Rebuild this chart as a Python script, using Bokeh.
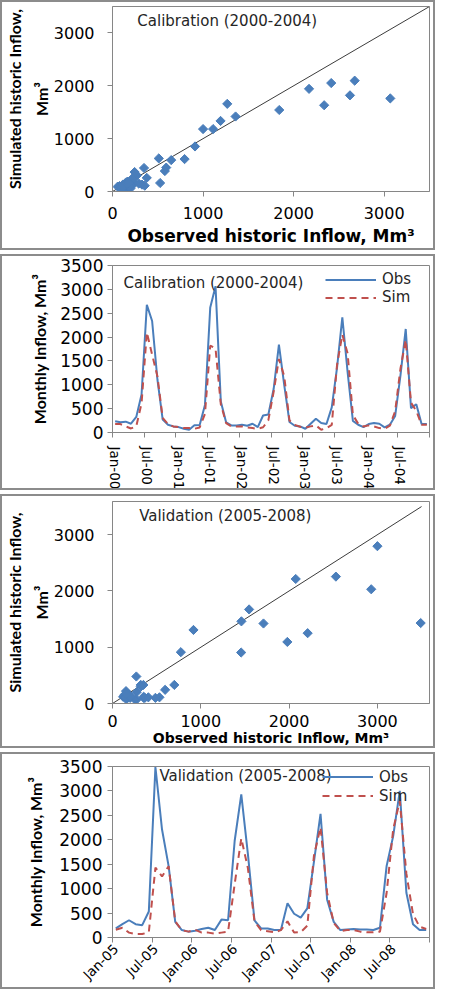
import math
from bokeh.plotting import figure
from bokeh.models import Label, Legend, LegendItem, FixedTicker, Range1d
from bokeh.layouts import column
from bokeh.embed import file_html
from bokeh.resources import INLINE

# ---------------- data ----------------
cal_tick_labels = ["Jan-00", "Jul-00", "Jan-01", "Jul-01", "Jan-02",
                   "Jul-02", "Jan-03", "Jul-03", "Jan-04", "Jul-04"]
val_tick_labels = ["Jan-05", "Jul-05", "Jan-06", "Jul-06",
                   "Jan-07", "Jul-07", "Jan-08", "Jul-08"]

# Monthly inflow (Mm3), Jan-2000 .. Dec-2004
cal_obs = [234, 213, 227, 184, 326, 796, 2674, 2337, 1111, 270, 163, 128,
           113, 78, 57, 150, 156, 578, 2622, 3067, 648, 213, 149, 149,
           163, 142, 184, 113, 356, 378, 911, 1841, 1000, 220, 142, 128,
           78, 184, 290, 198, 177, 526, 1359, 2415, 1267, 244, 163, 113,
           177, 198, 184, 106, 163, 348, 1193, 2170, 511, 593, 177, 177]
cal_sim = [177, 177, 128, 85, 130, 613, 2097, 1632, 1181, 305, 177, 128,
           113, 92, 92, 78, 106, 387, 1819, 1761, 594, 198, 128, 128,
           128, 106, 92, 78, 110, 258, 852, 1542, 1181, 250, 160, 120,
           100, 128, 150, 57, 92, 161, 1419, 2052, 1658, 368, 184, 128,
           149, 128, 92, 78, 142, 445, 1335, 1942, 626, 452, 163, 163]

# Monthly inflow (Mm3), Jan-2005 .. Dec-2008
val_obs = [186, 273, 353, 273, 253, 532, 3490, 2210, 1460, 320, 153, 120,
           140, 173, 200, 153, 366, 353, 1980, 2930, 1710, 350, 186, 186,
           153, 153, 700, 486, 406, 596, 1547, 2530, 774, 320, 153, 166,
           173, 166, 166, 153, 200, 1457, 2075, 3000, 917, 270, 153, 153]
val_sim = [160, 200, 100, 70, 70, 110, 1430, 1250, 1460, 330, 150, 120,
           160, 100, 100, 80, 100, 120, 1094, 2030, 1422, 330, 150, 130,
           106, 150, 330, 100, 110, 243, 1672, 2255, 912, 300, 133, 153,
           153, 120, 106, 106, 120, 906, 2213, 2796, 1307, 480, 220, 173]

scatter_ticks = [0, 1000, 2000, 3000]
flow_ticks = [0, 500, 1000, 1500, 2000, 2500, 3000, 3500]
one_to_one = [0, 3500]

# ---------------- style ----------------
BLUE = "#4a7ebb"
RED = "#c0504d"
AX = "#868686"
TXT = "#000000"
FONT = "DejaVu Sans"
LFONT = "Lato"
BOX = {"border": "2px solid #8c8c8c"}
W = 435


def title_label(p, x, y, s):
    p.add_layout(Label(x=x, y=y, text=s, text_font=FONT,
                       text_font_size="15px", text_color="#262626",
                       text_baseline="middle"))


def base(h, xr, yr, left, right, top, bottom):
    p = figure(width=W, height=h, x_range=xr, y_range=yr,
               output_backend="svg", toolbar_location=None,
               min_border_left=left, min_border_right=right,
               min_border_top=top, min_border_bottom=bottom)
    p.xgrid.visible = False
    p.ygrid.visible = False
    p.outline_line_color = AX
    p.outline_line_width = 1
    p.border_fill_color = "white"
    p.background_fill_color = "white"
    p.styles = BOX
    for ax in (p.xaxis[0], p.yaxis[0]):
        ax.axis_line_color = AX
        ax.major_tick_line_color = AX
        ax.minor_tick_line_color = AX
        ax.major_tick_in = 0
        ax.minor_tick_in = 0
        ax.major_label_text_color = TXT
        ax.major_label_text_font = FONT
        ax.axis_label_text_color = TXT
        ax.axis_label_text_font_style = "bold"
    return p


def scatter_panel(h, obs, sim, title, title_xy, xmax, ymax, borders,
                  xlab_size, xstand, xlab_stand):
    p = base(h, Range1d(0, xmax), Range1d(0, ymax), *borders)
    p.xaxis.ticker = FixedTicker(ticks=scatter_ticks, minor_ticks=[])
    p.yaxis.ticker = FixedTicker(ticks=scatter_ticks, minor_ticks=[])
    for ax in (p.xaxis[0], p.yaxis[0]):
        ax.major_tick_out = 5
        ax.minor_tick_out = 0
        ax.major_label_text_font_size = "16px"
    p.yaxis.major_label_standoff = 13
    p.xaxis.major_label_standoff = xstand
    p.yaxis.axis_label = "Simulated historic Inflow,\nMm\u00b3"
    p.yaxis.axis_label_text_font = LFONT
    p.yaxis.axis_label_text_font_size = "16px"
    p.yaxis.axis_label_text_line_height = 1.4
    p.yaxis.axis_label_standoff = 0
    p.xaxis.axis_label = "Observed historic Inflow, Mm\u00b3"
    p.xaxis.axis_label_text_font = FONT
    p.xaxis.axis_label_text_font_size = xlab_size
    p.xaxis.axis_label_standoff = xlab_stand
    p.line(one_to_one, one_to_one, line_color="#3c3c3c", line_width=1)
    p.scatter(obs, sim, marker="square", angle=math.pi / 4, size=6.5,
              fill_color=BLUE, line_color=BLUE)
    title_label(p, title_xy[0], title_xy[1], title)
    return p


def series_panel(h, obs, sim, labels, title, title_xy, leg_margin,
                 leg_label_w, row_h, borders, orient, label_size,
                 label_standoff, ytick_standoff, ylab_standoff):
    n = len(obs)
    idx = list(range(n))
    p = base(h, Range1d(-0.5, n - 0.5), Range1d(0, 3500), *borders)
    p.yaxis.ticker = FixedTicker(ticks=flow_ticks, minor_ticks=[])
    p.yaxis.major_tick_out = 5
    p.yaxis.major_label_standoff = ytick_standoff
    p.yaxis.major_label_text_font_size = "17px"
    p.yaxis.axis_label = "Monthly Inflow, Mm\u00b3"
    p.yaxis.axis_label_text_font = LFONT
    p.yaxis.axis_label_text_font_size = "16px"
    p.yaxis.axis_label_standoff = ylab_standoff
    major = [6 * k for k in range(len(labels))]
    minor = [6 * k - 0.5 for k in range(len(labels) + 1)]
    p.xaxis.ticker = FixedTicker(ticks=major, minor_ticks=minor)
    p.xaxis.major_label_overrides = {m: lab for m, lab in zip(major, labels)}
    p.xaxis.major_tick_out = 0
    p.xaxis.minor_tick_out = 5
    p.xaxis.major_label_orientation = orient
    p.xaxis.major_label_text_font_size = label_size
    p.xaxis.major_label_standoff = label_standoff
    r_obs = p.line(idx, obs, line_color=BLUE, line_width=2)
    r_sim = p.line(idx, sim, line_color=RED, line_width=2, line_dash="7 5")
    title_label(p, title_xy[0], title_xy[1], title)
    leg = Legend(items=[LegendItem(label="Obs", renderers=[r_obs]),
                        LegendItem(label="Sim", renderers=[r_sim])],
                 location="top_right", padding=0, margin=leg_margin,
                 spacing=0, glyph_width=51, glyph_height=row_h,
                 label_height=row_h, label_width=leg_label_w,
                 label_standoff=6, label_text_font=FONT,
                 label_text_font_size="15px", label_text_color="#262626",
                 border_line_alpha=0, background_fill_alpha=0)
    p.add_layout(leg)
    return p


p1 = scatter_panel(250, cal_obs, cal_sim, "Calibration (2000-2004)",
                   (274, 3230), 3500, 3500, (108, 8, 4, 61), "17px", 10, 4)
p2 = series_panel(236, cal_obs, cal_sim, cal_tick_labels,
                  "Calibration (2000-2004)", (1.6, 3123), 5, 42, 17,
                  (83, 1, 9, 59), "vertical", "13.5px", 9, 4, 8)
p3 = scatter_panel(254, val_obs, val_sim, "Validation (2005-2008)",
                   (302, 3340), 3590, 3590, (108, 6, 5, 47), "14px", 6, 0)
p4 = series_panel(237, val_obs, val_sim, val_tick_labels,
                  "Validation (2005-2008)", (6.6, 3300), 1, 49, 19,
                  (87, 1, 12, 46), math.pi / 4, "13.5px", 4, 5, 11)

layout = column(p1, p2, p3, p4, spacing=4)
open("out.html", "w").write(file_html(layout, INLINE))
